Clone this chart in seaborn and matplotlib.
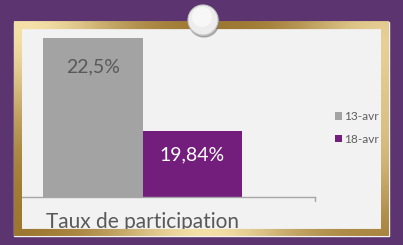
import numpy as np
import pandas as pd
import matplotlib
matplotlib.use("Agg")
import matplotlib.pyplot as plt
from matplotlib.patches import Rectangle, Circle
import seaborn as sns

# ---- data ----
categories = ["Taux de participation"]
dates = ["13-avr", "18-avr"]
values = [22.5, 19.84]
value_labels = ["22,5%", "19,84%"]

# ---- style ----
GRAY = "#A3A3A3"
PURPLE = "#731E7C"
BG = "#5C3570"
PANEL = "#F2F2F2"
TEXT = "#595959"
FONT = "Lato"

sns.set_theme(style="white")
plt.rcParams["font.family"] = [FONT, "DejaVu Sans"]

W, H = 403, 245
fig = plt.figure(figsize=(W / 100, H / 100), dpi=100, facecolor=BG)

def fx(px):
    return px / W

def fy(py):
    return 1 - py / H

# background panel
bg = fig.add_axes([0, 0, 1, 1], zorder=0)
bg.set_axis_off()
bg.set_xlim(0, W)
bg.set_ylim(H, 0)
bg.add_patch(Rectangle((14, 22), 375, 214, color=PANEL))

# main axes
ax = fig.add_axes([fx(22), fy(197), fx(315) - fx(22), fy(30) - fy(197)], zorder=1)
ax.patch.set_alpha(0)
df = pd.DataFrame({"cat": categories * len(dates), "date": dates, "val": values})
sns.barplot(data=df, x="cat", y="val", hue="date", palette=[GRAY, PURPLE],
            saturation=1, width=0.8, ax=ax, legend=True, errorbar=None,
            linewidth=0, edgecolor="none")
ax.set_ylim(17.96, 22.73)
ax.set_xlim(-0.484, 0.692)
ax.set_xlabel("")
ax.set_ylabel("")
ax.set_yticks([])
for s in ["top", "left", "right"]:
    ax.spines[s].set_visible(False)
ax.spines["bottom"].set_color("#A6A6A6")
ax.spines["bottom"].set_linewidth(1)
ax.plot([1, 1], [0, -0.025], transform=ax.transAxes, color="#A6A6A6", lw=1, clip_on=False)
ax.tick_params(axis="x", length=0, pad=11, labelsize=15, labelcolor=TEXT)

label_colors = [TEXT, "white"]
label_offsets = [-21, -17]
for cont, lab, col, off in zip(ax.containers, value_labels, label_colors, label_offsets):
    for p in cont.patches:
        ax.annotate(lab, xy=(p.get_x() + p.get_width() / 2, p.get_height()),
                    xytext=(0, off), textcoords="offset points",
                    ha="center", va="center", fontsize=14, color=col)

handles, labels = ax.get_legend_handles_labels()
ax.legend(handles, labels, loc="center left", bbox_to_anchor=(fx(335), fy(128)),
          bbox_transform=fig.transFigure, frameon=False, fontsize=8.6,
          handlelength=0.6, handleheight=0.6, handletextpad=0.2,
          labelspacing=0.95, borderpad=0, borderaxespad=0, labelcolor="#5f5f5f")

# overlay frame with gold gradient
ov = fig.add_axes([0, 0, 1, 1], zorder=3)
ov.set_axis_off()
yy, xx = np.mgrid[0:H, 0:W]
def g(cx, cy, s):
    return np.exp(-((xx - cx) ** 2 + (yy - cy) ** 2) / (2 * s ** 2))
t = np.clip(g(25, 25, 70) + g(205, 240, 70) + 0.8 * g(380, 35, 60) + 0.5 * g(385, 150, 50), 0, 1)
dark = np.array([0.60, 0.45, 0.17])
light = np.array([0.96, 0.88, 0.66])
rgb = dark[None, None, :] * (1 - t[..., None]) + light[None, None, :] * t[..., None]
img = np.zeros((H, W, 4))
img[..., :3] = rgb
frame = (xx >= 14) & (xx < 389) & (yy >= 22) & (yy < 236)
inner = (xx >= 22) & (xx < 381) & (yy >= 30) & (yy < 229)
img[..., 3] = (frame & ~inner).astype(float)
ov.imshow(img, extent=(0, W, H, 0), interpolation="bilinear", aspect="auto")
ov.set_xlim(0, W)
ov.set_ylim(H, 0)
ov.add_patch(Circle((204, 22), 15, color="#7a7a7a", alpha=0.5))
ov.add_patch(Circle((203, 20), 15, facecolor="#EDEDED", edgecolor="#C8C8C8", lw=0.8))
ov.add_patch(Circle((202, 17), 10, facecolor="#F7F7F7", edgecolor="none"))

fig.savefig("out.png", dpi=100, facecolor=BG)
